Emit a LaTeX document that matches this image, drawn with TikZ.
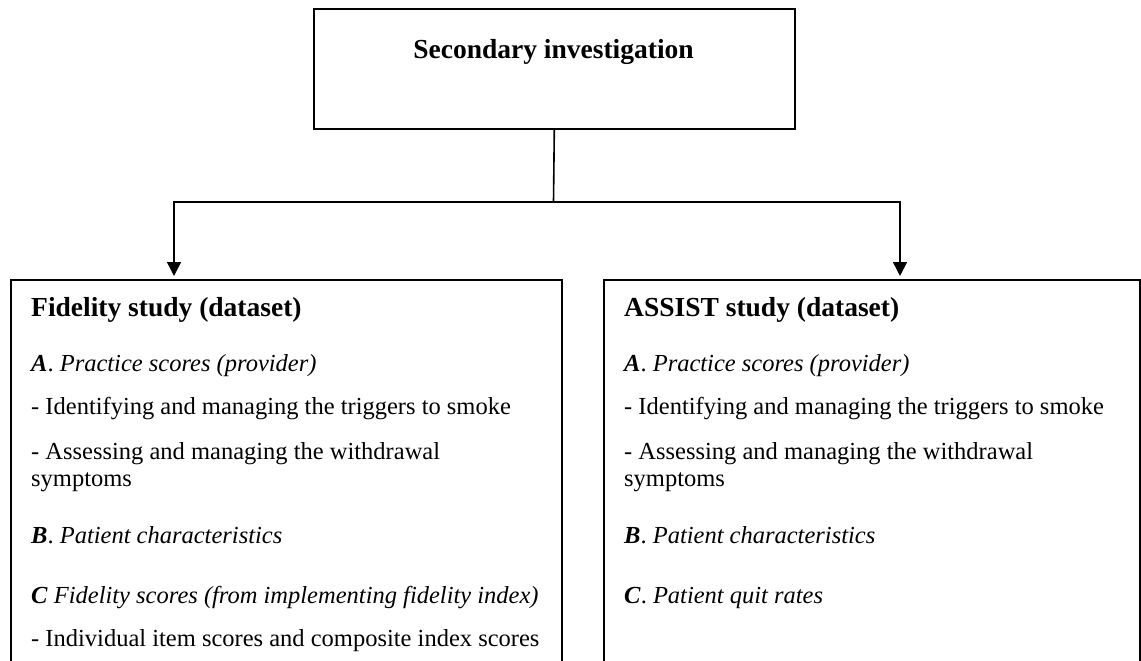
\documentclass[tikz,border=0pt]{standalone}
\usepackage{fontspec}
\setmainfont{Liberation Serif}
\usetikzlibrary{arrows.meta}

\tikzset{
  frame/.style={draw, line width=1.6pt, rectangle, inner sep=0pt},
  link/.style={line width=1.6pt},
  arr/.style={line width=1.6pt, -{Triangle[width=14pt,length=14pt]}},
  head/.style={anchor=base west, inner sep=0pt, font=\fontsize{27.5}{32}\selectfont\bfseries},
  item/.style={anchor=base west, inner sep=0pt, font=\fontsize{24.5}{29}\selectfont},
}
\newcommand{\lbl}[1]{\textbf{\textit{#1}}}

\begin{document}
\begin{tikzpicture}[x=1pt, y=-1pt]
  \useasboundingbox (0,0) rectangle (1141,661);
  \clip (0,0) rectangle (1141,661);

  % top box
  \node[frame, minimum width=481pt, minimum height=120pt, anchor=north west] (top) at (313,8) {};
  \node[anchor=base, inner sep=0pt, font=\fontsize{27.5}{32}\selectfont\bfseries] (toptxt) at (553.5,59) {Secondary investigation};

  % the two dataset boxes run past the lower edge
  \node[frame, minimum width=551pt, minimum height=440pt, anchor=north west] (left) at (10,279) {};
  \node[frame, minimum width=536pt, minimum height=440pt, anchor=north west] (right) at (603,279) {};

  % connectors
  \coordinate (split) at (553.5,202);
  \coordinate (lt) at (174,276);
  \coordinate (rt) at (900,276);
  \draw[link] (top.south) -- (split);
  \draw[arr] (split) -| (lt);
  \draw[arr] (split) -| (rt);

  % left box contents
  \node[head] (l0) at (31,316) {Fidelity study (dataset)};
  \node[item] (l1) at (31,371) {\lbl{A}. \textit{Practice scores (provider)}};
  \node[item] (l2) at (31,414) {- Identifying and managing the triggers to smoke};
  \node[item] (l3) at (31,459) {- Assessing and managing the withdrawal};
  \node[item] (l4) at (31,486) {symptoms};
  \node[item] (l5) at (31,543) {\lbl{B}. \textit{Patient characteristics}};
  \node[item] (l6) at (31,603) {\lbl{C} \textit{Fidelity scores (from implementing fidelity index)}};
  \node[item] (l7) at (31,646) {- Individual item scores and composite index scores};

  % right box contents
  \node[head] (r0) at (624,316) {ASSIST study (dataset)};
  \node[item] (r1) at (624,371) {\lbl{A}. \textit{Practice scores (provider)}};
  \node[item] (r2) at (624,414) {- Identifying and managing the triggers to smoke};
  \node[item] (r3) at (624,459) {- Assessing and managing the withdrawal};
  \node[item] (r4) at (624,486) {symptoms};
  \node[item] (r5) at (624,543) {\lbl{B}. \textit{Patient characteristics}};
  \node[item] (r6) at (624,603) {\lbl{C}. \textit{Patient quit rates}};
\end{tikzpicture}
\end{document}
